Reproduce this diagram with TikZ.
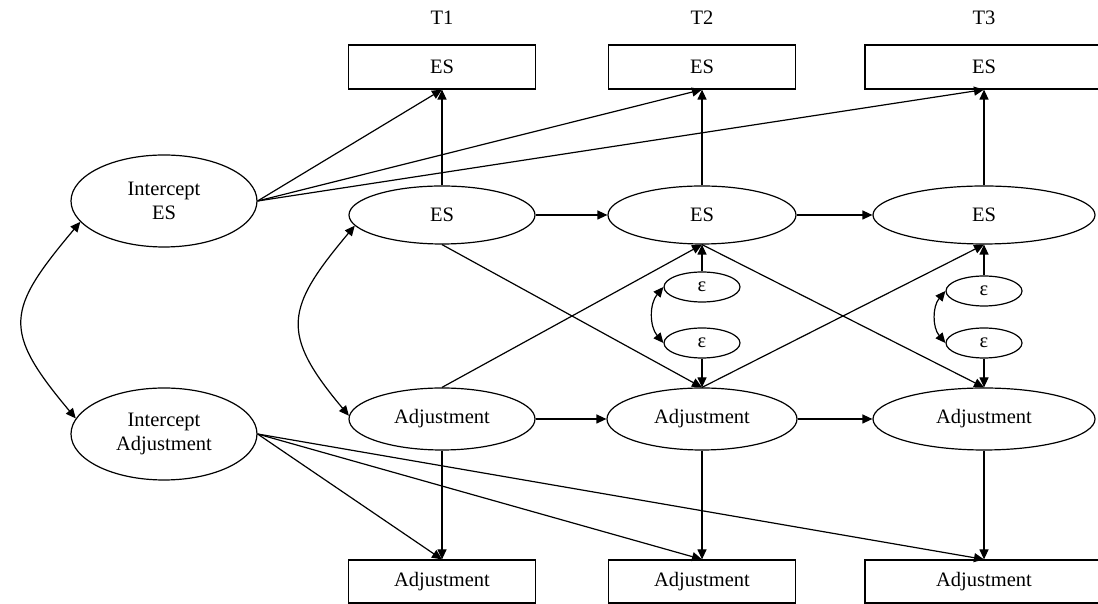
\documentclass[tikz,border=0pt]{standalone}
\usepackage{fontspec}
\setmainfont{Liberation Serif}
\usetikzlibrary{arrows.meta,shapes.geometric}
\begin{document}
\begin{tikzpicture}[x=1pt,y=1pt]
\tikzset{
latent/.style={ellipse,draw,line width=1.2pt,inner sep=0pt,minimum width=186pt,minimum height=58pt},
bigoval/.style={latent,minimum width=186pt,minimum height=92pt,align=center},
err/.style={latent,minimum width=76pt,minimum height=30pt},
obs/.style={rectangle,draw,line width=1.2pt,inner sep=0pt,minimum width=187pt,minimum height=44pt},
link/.style={->,line width=1.2pt,>={Triangle[length=10pt,width=9pt]}},
font={\fontsize{20.5pt}{24pt}\selectfont}
}
\useasboundingbox (0,0) rectangle (1098,604);

% time points
\node (T1) at (442,586) {T1};
\node (T2) at (702,586) {T2};
\node (T3) at (984,586) {T3};

% observed ES
\node[obs] (oes1) at (442,537) {ES};
\node[obs] (oes2) at (702,537) {ES};
\node[obs,minimum width=238pt] (oes3) at (984,537) {ES};

% intercepts
\node[bigoval] (iES) at (164,403) {Intercept\\ES};
\node[bigoval] (iAdj) at (164,170) {Intercept\\Adjustment};

% latent ES
\node[latent] (es1) at (442,389) {ES};
\node[latent,minimum width=188pt] (es2) at (702,389) {ES};
\node[latent,minimum width=222pt] (es3) at (984,389) {ES};

% residuals
\node[err] (e2a) at (702,317) {ε};
\node[err] (e2b) at (702,261) {ε};
\node[err] (e3a) at (984,313) {ε};
\node[err] (e3b) at (984,261) {ε};

% latent adjustment
\node[latent,minimum height=62pt] (adj1) at (442,185) {Adjustment};
\node[latent,minimum width=190pt,minimum height=62pt] (adj2) at (702,185) {Adjustment};
\node[latent,minimum width=222pt,minimum height=62pt] (adj3) at (984,185) {Adjustment};

% observed adjustment
\node[obs,minimum height=43pt] (oadj1) at (442,22.5) {Adjustment};
\node[obs,minimum height=43pt] (oadj2) at (702,22.5) {Adjustment};
\node[obs,minimum width=238pt,minimum height=43pt] (oadj3) at (984,22.5) {Adjustment};

\path[link]
 (iES.east) edge (oes1.south)
 (iES.east) edge (oes2.south)
 (iES.east) edge (oes3.south)

 (es1.north) edge (oes1.south)
 (es2.north) edge (oes2.south)
 (es3.north) edge (oes3.south)

 (es1.east) edge (es2.west)
 (es2.east) edge (es3.west)
 (adj1.east) edge (adj2.west)
 (adj2.east) edge (adj3.west)

 (es1.south) edge (adj2.north)
 (adj1.north) edge (es2.south)
 (es2.south) edge (adj3.north)
 (adj2.north) edge (es3.south)

 (e2a.north) edge (es2.south)
 (e2b.south) edge (adj2.north)
 (e3a.north) edge (es3.south)
 (e3b.south) edge (adj3.north)

 (adj1.south) edge (oadj1.north)
 (adj2.south) edge (oadj2.north)
 (adj3.south) edge (oadj3.north)

 (iAdj.east) edge (oadj1.north)
 (iAdj.east) edge (oadj2.north)
 (iAdj.east) edge (oadj3.north)
;

\path[link,<->]
 (iES.194) edge[out=230,in=130,looseness=1.5] (iAdj.170)
 (es1.187) edge[out=230,in=130,looseness=1.45] (adj1.178)
 (e2a.west) edge[bend right=40] (e2b.west)
 (e3a.west) edge[bend right=40] (e3b.west)
;
\end{tikzpicture}
\end{document}
